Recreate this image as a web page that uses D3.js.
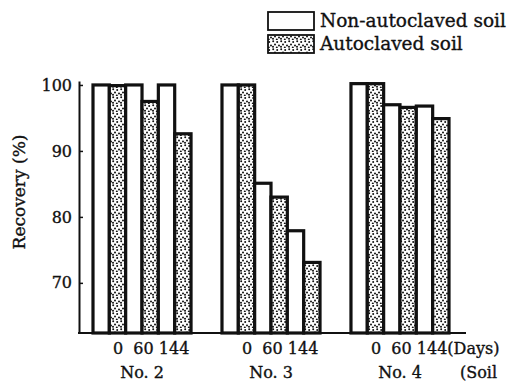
<!DOCTYPE html>
<html>
<head>
<meta charset="utf-8">
<script src="https://cdn.jsdelivr.net/npm/d3@7"></script>
<style>
  body { margin: 0; background: #fff; }
  text { font-family: "DejaVu Serif", serif; fill: #111; stroke: #111; stroke-width: 0.35px; }
</style>
</head>
<body>
<div id="chart"></div>
<script>
var soils = ["No. 2", "No. 3", "No. 4"];
var days = ["0", "60", "144"];
var treatments = ["Non-autoclaved soil", "Autoclaved soil"];
// recovery (%) per soil, per day
var nonAutoclaved = [[100, 100, 100], [100, 85.1, 77.9], [100.2, 97.0, 96.8]];
var autoclaved = [[99.9, 97.5, 92.6], [100, 83.0, 73.1], [100.2, 96.6, 94.9]];
var yTicks = [70, 80, 90, 100];

var svg = d3.select("#chart")
	.append("svg")
	.attr("width", 521)
	.attr("height", 386);

// dotted fill for autoclaved bars
var pat = svg.append("defs").append("pattern")
	.attr("id", "dots")
	.attr("patternUnits", "userSpaceOnUse")
	.attr("width", 8)
	.attr("height", 8);
pat.append("rect").attr("width", 8).attr("height", 8).attr("fill", "#fff");
[[1.2, 1.2], [5.2, 2], [3, 4.4], [7, 5.6], [1, 6.8], [4.8, 7.4]].forEach(function (p) {
	pat.append("circle").attr("cx", p[0]).attr("cy", p[1]).attr("r", 1).attr("fill", "#111");
});

var y = d3.scaleLinear().domain([62.4, 100.6]).range([333, 81]);
var x0 = d3.scaleBand().domain(soils).range([93, 449]).paddingInner(0.24);
var x1 = d3.scaleBand().domain(days).range([0, x0.bandwidth()]);
var x2 = d3.scaleBand().domain(treatments).range([0, x1.bandwidth()]);

var rows = [];
soils.forEach(function (s, i) {
	days.forEach(function (d, j) {
		rows.push({ soil: s, day: d, kind: treatments[0], value: nonAutoclaved[i][j] });
		rows.push({ soil: s, day: d, kind: treatments[1], value: autoclaved[i][j] });
	});
});

svg.append("g").selectAll("rect")
	.data(rows)
	.enter()
	.append("rect")
	.attr("x", d => x0(d.soil) + x1(d.day) + x2(d.kind))
	.attr("y", d => y(d.value))
	.attr("width", x2.bandwidth())
	.attr("height", d => y.range()[0] - y(d.value))
	.attr("fill", d => d.kind === treatments[0] ? "#fff" : "url(#dots)")
	.attr("stroke", "#111")
	.attr("stroke-width", 3.2);

// y axis with small inward ticks
var yAxis = svg.append("g")
	.attr("transform", "translate(79,0)")
	.call(d3.axisLeft(y).tickValues(yTicks).tickSizeInner(-4).tickSizeOuter(0).tickPadding(7));
yAxis.select(".domain").attr("stroke", "#111").attr("stroke-width", 2);
yAxis.selectAll(".tick line").attr("stroke", "#111").attr("stroke-width", 1.5);
yAxis.selectAll("text").attr("font-size", 16).attr("font-family", "DejaVu Serif");

// baseline
svg.append("line")
	.attr("x1", 78).attr("x2", 466)
	.attr("y1", 333).attr("y2", 333)
	.attr("stroke", "#111").attr("stroke-width", 2);

svg.append("text")
	.attr("transform", "translate(25,192) rotate(-90)")
	.attr("text-anchor", "middle")
	.attr("font-size", 17)
	.text("Recovery (%)");

// day labels under each soil
svg.append("g").selectAll("text")
	.data(soils)
	.enter()
	.append("text")
	.attr("x", d => x0(d) + 20)
	.attr("y", 354)
	.attr("font-size", 16)
	.attr("xml:space", "preserve")
	.style("white-space", "pre")
	.text((d, i) => days.join("  ").replace("  144", " 144") + (i === soils.length - 1 ? "(Days)" : ""));

svg.append("g").selectAll("text")
	.data(soils)
	.enter()
	.append("text")
	.attr("x", d => x0(d) + x0.bandwidth() / 2)
	.attr("y", 378)
	.attr("text-anchor", "middle")
	.attr("font-size", 16)
	.text(d => d);

svg.append("text")
	.attr("x", 460)
	.attr("y", 378)
	.attr("font-size", 16)
	.text("(Soil");

// legend
var legend = svg.append("g");
treatments.forEach(function (t, i) {
	legend.append("rect")
		.attr("x", 268).attr("y", 12 + i * 23)
		.attr("width", 46).attr("height", 18)
		.attr("fill", i === 0 ? "#fff" : "url(#dots)")
		.attr("stroke", "#111").attr("stroke-width", 1.8);
	legend.append("text")
		.attr("x", 320).attr("y", 27 + i * 23)
		.attr("font-size", 18.5)
		.text(t);
});
</script>
</body>
</html>
